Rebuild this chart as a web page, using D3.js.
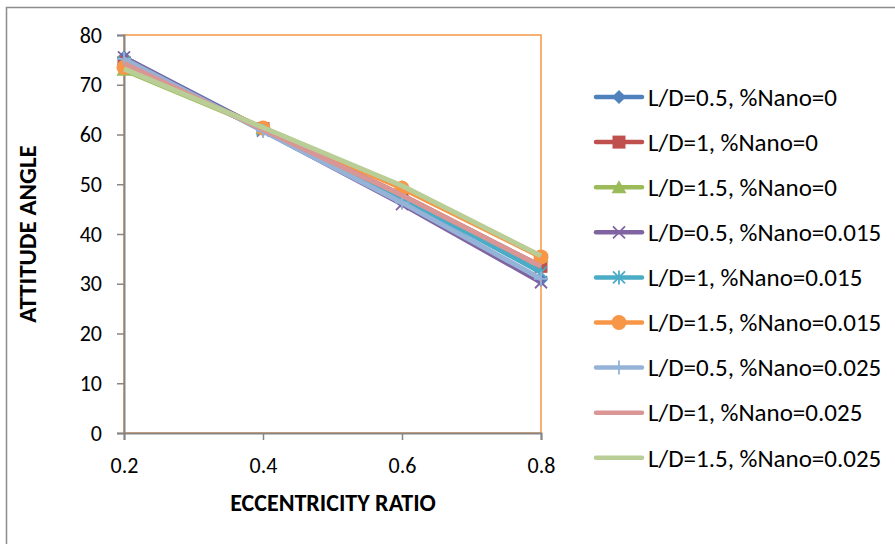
<!DOCTYPE html>
<html>
<head>
<meta charset="utf-8">
<script src="https://cdn.jsdelivr.net/npm/d3@7"></script>
<style>
  body { margin: 0; background: #fff; }
  svg { display: block; font-family: Carlito, Calibri, Lato, "Liberation Sans", Arial, sans-serif; }
</style>
</head>
<body>
<div id="chart"></div>
<script>
// datos
const ratios = [0.2, 0.4, 0.6, 0.8];
const yTicks = [0, 10, 20, 30, 40, 50, 60, 70, 80];
const xTicks = [0.2, 0.4, 0.6, 0.8];

const nombres = [
  "L/D=0.5, %Nano=0",
  "L/D=1, %Nano=0",
  "L/D=1.5, %Nano=0",
  "L/D=0.5, %Nano=0.015",
  "L/D=1, %Nano=0.015",
  "L/D=1.5, %Nano=0.015",
  "L/D=0.5, %Nano=0.025",
  "L/D=1, %Nano=0.025",
  "L/D=1.5, %Nano=0.025"
];
const colores = ["#4F81BD", "#C0504D", "#9BBB59", "#8064A2", "#4BACC6", "#F79646", "#95B3D7", "#D99694", "#B9CD96"];
const marcadores = ["diamond", "square", "triangle", "x", "asterisk", "circle", "plus", "none", "none"];

const ld05_0   = [75.5, 61.0, 46.5, 30.8];
const ld1_0    = [74.5, 61.2, 47.8, 33.5];
const ld15_0   = [73.0, 61.3, 49.5, 35.5];
const ld05_015 = [75.5, 60.8, 46.0, 30.3];
const ld1_015  = [74.5, 61.0, 47.4, 32.3];
const ld15_015 = [73.5, 61.3, 49.2, 35.4];
const ld05_025 = [75.2, 60.7, 46.3, 31.0];
const ld1_025  = [74.3, 61.0, 47.8, 33.5];
const ld15_025 = [73.2, 61.4, 49.7, 35.6];

const valores = [ld05_0, ld1_0, ld15_0, ld05_015, ld1_015, ld15_015, ld05_025, ld1_025, ld15_025];

const series = nombres.map((n, i) => ({
  nombre: n,
  color: colores[i],
  marcador: marcadores[i],
  puntos: ratios.map((r, j) => ({ x: r, y: valores[i][j] }))
}));

const W = 895, H = 544;
const svg = d3.select("#chart").append("svg").attr("width", W).attr("height", H);

// borde del grafico
svg.append("rect")
  .attr("x", 6.5).attr("y", 7.5)
  .attr("width", W + 10).attr("height", H + 10)
  .attr("fill", "none").attr("stroke", "#8c8c8c").attr("stroke-width", 1.5);

const x = d3.scaleLinear().domain([0.2, 0.8]).range([124, 541]);
const y = d3.scaleLinear().domain([0, 80]).range([433, 35]);

// area de trazado (borde naranja)
svg.append("rect")
  .attr("x", x(0.2)).attr("y", y(80))
  .attr("width", x(0.8) - x(0.2)).attr("height", y(0) - y(80))
  .attr("fill", "none").attr("stroke", "#F79646").attr("stroke-width", 1.5);

// ejes
const yAxis = svg.append("g")
  .attr("transform", `translate(${x(0.2)},0)`)
  .call(d3.axisLeft(y).tickValues(yTicks).tickSize(7).tickPadding(15));
const xAxis = svg.append("g")
  .attr("transform", `translate(0,${y(0)})`)
  .call(d3.axisBottom(x).tickValues(xTicks).tickSize(7).tickPadding(17).tickFormat(d3.format(".1f")));

[xAxis, yAxis].forEach(g => {
  g.select(".domain").attr("stroke", "#868686").attr("stroke-width", 2);
  g.selectAll(".tick line").attr("stroke", "#868686").attr("stroke-width", 1.5);
  g.selectAll("text").attr("fill", "#000").style("font-size", "22px")
    .style("font-family", "Carlito, Calibri, Lato, 'Liberation Sans', Arial, sans-serif");
});

// titulos
svg.append("text")
  .attr("x", 333).attr("y", 511)
  .attr("text-anchor", "middle")
  .style("font-size", "24px").style("font-weight", "bold")
  .text("ECCENTRICITY RATIO");
svg.append("text")
  .attr("transform", `translate(36,234) rotate(-90)`)
  .attr("text-anchor", "middle")
  .style("font-size", "25px").style("font-weight", "bold")
  .text("ATTITUDE ANGLE");

// marcadores
function dibujarMarcador(g, tipo, color, cx, cy) {
  if (tipo === "diamond") {
    g.append("path").attr("d", `M${cx},${cy - 7}L${cx + 7},${cy}L${cx},${cy + 7}L${cx - 7},${cy}Z`).attr("fill", color);
  } else if (tipo === "square") {
    g.append("rect").attr("x", cx - 6.5).attr("y", cy - 6.5).attr("width", 13).attr("height", 13).attr("fill", color);
  } else if (tipo === "triangle") {
    g.append("path").attr("d", `M${cx},${cy - 7}L${cx + 7.5},${cy + 6}L${cx - 7.5},${cy + 6}Z`).attr("fill", color);
  } else if (tipo === "circle") {
    g.append("circle").attr("cx", cx).attr("cy", cy).attr("r", 7.5).attr("fill", color);
  } else if (tipo === "x") {
    g.append("path").attr("d", `M${cx - 6},${cy - 6}L${cx + 6},${cy + 6}M${cx - 6},${cy + 6}L${cx + 6},${cy - 6}`)
      .attr("stroke", color).attr("stroke-width", 1.8);
  } else if (tipo === "asterisk") {
    g.append("path").attr("d", `M${cx - 6},${cy - 6}L${cx + 6},${cy + 6}M${cx - 6},${cy + 6}L${cx + 6},${cy - 6}M${cx},${cy - 7}L${cx},${cy + 7}`)
      .attr("stroke", color).attr("stroke-width", 1.8);
  } else if (tipo === "plus") {
    g.append("path").attr("d", `M${cx},${cy - 7}L${cx},${cy + 7}M${cx - 7},${cy}L${cx + 7},${cy}`)
      .attr("stroke", color).attr("stroke-width", 1.8);
  }
}

const linea = d3.line().x(d => x(d.x)).y(d => y(d.y));

series.forEach(s => {
  const g = svg.append("g");
  g.append("path")
    .attr("d", linea(s.puntos))
    .attr("fill", "none")
    .attr("stroke", s.color)
    .attr("stroke-width", 5)
    .attr("stroke-linejoin", "round");
  s.puntos.forEach(p => dibujarMarcador(g, s.marcador, s.color, x(p.x), y(p.y)));
});

// leyenda
const leyenda = svg.append("g");
series.forEach((s, i) => {
  const ly = 97 + i * 45.1;
  const item = leyenda.append("g");
  item.append("line")
    .attr("x1", 596).attr("x2", 642)
    .attr("y1", ly).attr("y2", ly)
    .attr("stroke", s.color).attr("stroke-width", 4.5).attr("stroke-linecap", "round");
  dibujarMarcador(item, s.marcador, s.color, 619, ly);
  item.append("text")
    .attr("x", 648).attr("y", ly)
    .attr("dy", "0.35em")
    .style("font-size", "25px")
    .text(s.nombre);
});
</script>
</body>
</html>
